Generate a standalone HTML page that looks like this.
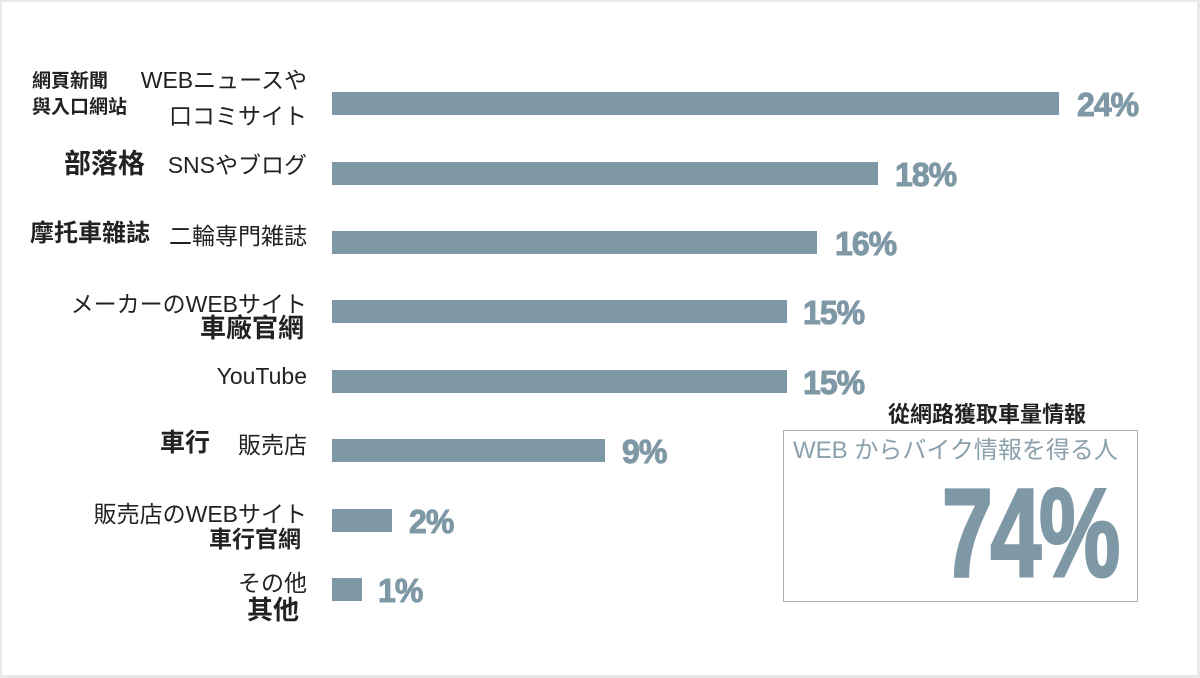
<!DOCTYPE html>
<html><head><meta charset="utf-8"><style>
body{margin:0;width:1200px;height:678px;background:#e9e9e9;overflow:hidden;font-family:"Liberation Sans","Noto Sans CJK JP",sans-serif}
#f{position:absolute;left:2px;top:2px;width:1195px;height:673px;background:#fff}
.t{position:absolute;white-space:nowrap;color:#222;line-height:1.15}
.j{font-size:23px;text-align:right;right:893px}
.c{font-family:"Liberation Sans","Noto Sans CJK TC",sans-serif;font-weight:bold}
.b{position:absolute;left:332px;height:23px;background:#7f98a6}
.p{position:absolute;font-weight:bold;font-size:33px;color:#7f98a6;transform:scaleX(.97);transform-origin:left top;letter-spacing:-1px;-webkit-text-stroke:1px #7f98a6}
</style></head><body><div id="f"></div>
<div class="t j" style="top:67px">WEBニュースや</div>
<div class="t j" style="top:103px">口コミサイト</div>
<div class="t c" style="left:32px;top:71px;font-size:19px">網頁新聞</div>
<div class="t c" style="left:32px;top:97px;font-size:19px">與入口網站</div>
<div class="t c" style="left:64px;top:149px;font-size:27px">部落格</div>
<div class="t j" style="top:152px">SNSやブログ</div>
<div class="t c" style="left:30px;top:220px;font-size:24px">摩托車雜誌</div>
<div class="t j" style="top:223px">二輪専門雑誌</div>
<div class="t j" style="top:291px">メーカーのWEBサイト</div>
<div class="t c" style="left:200px;top:314px;font-size:26px">車廠官網</div>
<div class="t j" style="top:363px">YouTube</div>
<div class="t c" style="left:160px;top:429px;font-size:25px">車行</div>
<div class="t j" style="top:432px">販売店</div>
<div class="t j" style="top:501px">販売店のWEBサイト</div>
<div class="t c" style="left:209px;top:526px;font-size:23px">車行官網</div>
<div class="t j" style="top:570px">その他</div>
<div class="t c" style="left:247px;top:596px;font-size:26px">其他</div>
<div class="b" style="top:92px;width:727px"></div>
<div class="b" style="top:162px;width:546px"></div>
<div class="b" style="top:231px;width:485px"></div>
<div class="b" style="top:300px;width:455px"></div>
<div class="b" style="top:370px;width:455px"></div>
<div class="b" style="top:439px;width:273px"></div>
<div class="b" style="top:509px;width:60px"></div>
<div class="b" style="top:578px;width:30px"></div>
<div class="p" style="left:1077px;top:86px">24%</div>
<div class="p" style="left:895px;top:156px">18%</div>
<div class="p" style="left:835px;top:225px">16%</div>
<div class="p" style="left:803px;top:294px">15%</div>
<div class="p" style="left:803px;top:364px">15%</div>
<div class="p" style="left:622px;top:433px">9%</div>
<div class="p" style="left:409px;top:503px">2%</div>
<div class="p" style="left:378px;top:572px">1%</div>
<div class="t c" style="left:888px;top:402px;font-size:22px">從網路獲取車量情報</div>
<div style="position:absolute;left:783px;top:430px;width:353px;height:170px;border:1.5px solid #a3b2bb"></div>
<div class="t" style="left:793px;top:437px;font-size:24px;color:#8aa0ad">WEB からバイク情報を得る人</div>
<div class="p" style="left:942px;top:462px;font-size:125px;letter-spacing:-3px;transform:scaleX(.73);-webkit-text-stroke:3px #7f98a6">74%</div>
</body></html>
